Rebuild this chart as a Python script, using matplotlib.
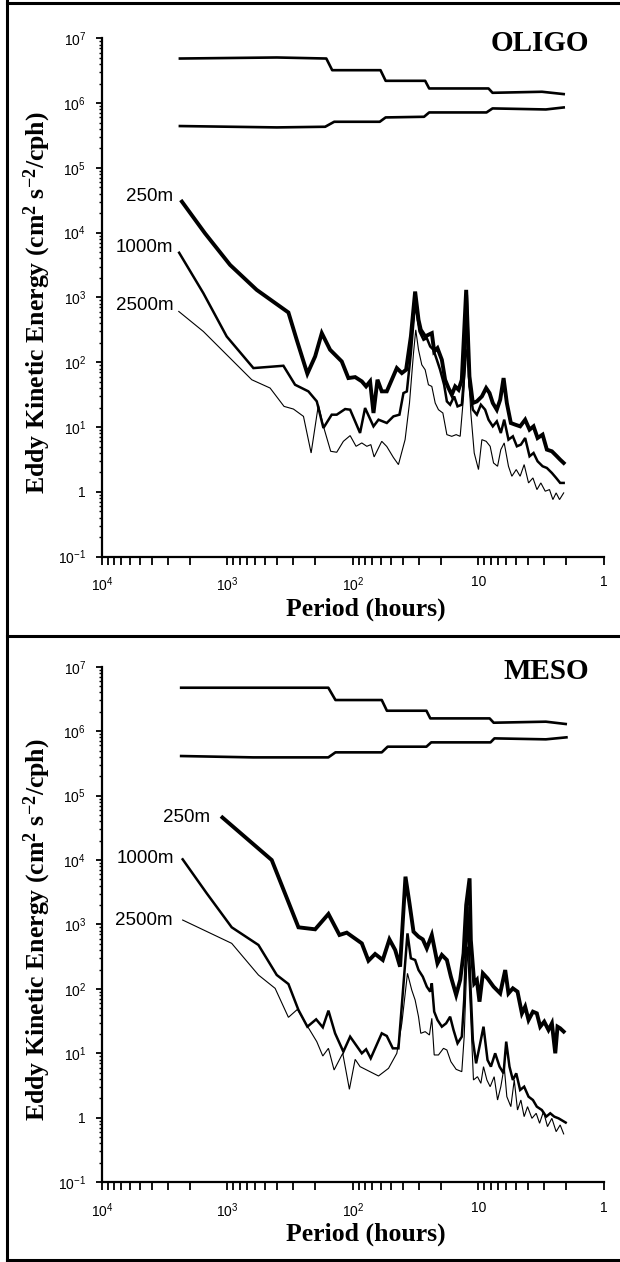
import numpy as np
import matplotlib.pyplot as plt
from matplotlib.lines import Line2D
from matplotlib.ticker import LogLocator, NullFormatter

plt.rcParams['font.family'] = 'Liberation Sans'
plt.rcParams['mathtext.default'] = 'regular'

# values, stored as log10(period in hours) / log10(EKE)
panel_names = ['OLIGO', 'MESO']
depth_labels = ['250m', '1000m', '2500m']

ytick_vals = [1e-1, 1, 1e1, 1e2, 1e3, 1e4, 1e5, 1e6, 1e7]
ytick_labels = [r'$10^{-1}$', '1', r'$10^{1}$', r'$10^{2}$', r'$10^{3}$',
                r'$10^{4}$', r'$10^{5}$', r'$10^{6}$', r'$10^{7}$']
xtick_vals = [1e4, 1e3, 1e2, 10, 1]
xtick_labels = [r'$10^{4}$', r'$10^{3}$', r'$10^{2}$', '10', '1']

# ---- OLIGO ----
oligo_hi_logp = [3.379, 2.606, 2.212, 2.165, 1.780, 1.739, 1.424, 1.392, 0.919, 0.887, 0.493, 0.320]
oligo_hi_loge = [6.687, 6.703, 6.687, 6.507, 6.507, 6.343, 6.343, 6.225, 6.225, 6.158, 6.174, 6.138]
oligo_lo_logp = [3.379, 2.606, 2.221, 2.149, 1.786, 1.739, 1.433, 1.392, 0.935, 0.887, 0.462, 0.320]
oligo_lo_loge = [5.645, 5.624, 5.634, 5.711, 5.711, 5.778, 5.788, 5.855, 5.855, 5.917, 5.901, 5.932]

oligo_250_logp = [3.363, 3.179, 2.979, 2.767, 2.514, 2.448, 2.363, 2.301, 2.248, 2.182,
                  2.089, 2.036, 1.982, 1.929, 1.895, 1.863, 1.836, 1.804, 1.770, 1.730,
                  1.650, 1.610, 1.576, 1.538, 1.504, 1.477, 1.459, 1.424, 1.398, 1.371,
                  1.352, 1.326, 1.291, 1.265, 1.238, 1.212, 1.185, 1.158, 1.132, 1.097,
                  1.071, 1.044, 1.012, 0.972, 0.938, 0.911, 0.885, 0.853, 0.826, 0.799,
                  0.773, 0.741, 0.706, 0.667, 0.627, 0.592, 0.560, 0.528, 0.488, 0.454,
                  0.414, 0.374, 0.348, 0.320]
oligo_250_loge = [4.479, 3.990, 3.502, 3.117, 2.768, 2.347, 1.823, 2.090, 2.449, 2.193,
                  2.013, 1.756, 1.771, 1.705, 1.628, 1.705, 1.217, 1.730, 1.551, 1.551,
                  1.910, 1.833, 1.884, 2.398, 3.091, 2.655, 2.501, 2.398, 2.424, 2.449,
                  2.167, 2.218, 2.038, 1.730, 1.602, 1.499, 1.627, 1.576, 1.730, 3.117,
                  1.781, 1.371, 1.396, 1.473, 1.602, 1.525, 1.371, 1.268, 1.422, 1.756,
                  1.371, 1.062, 1.037, 1.011, 1.114, 0.960, 1.011, 0.831, 0.883, 0.652,
                  0.626, 0.549, 0.497, 0.446]

oligo_1000_logp = [3.385, 3.192, 3.006, 2.793, 2.554, 2.461, 2.355, 2.288, 2.235, 2.169,
                   2.129, 2.062, 2.022, 1.943, 1.903, 1.836, 1.796, 1.730, 1.677, 1.629,
                   1.597, 1.570, 1.538, 1.504, 1.469, 1.437, 1.411, 1.384, 1.358, 1.331,
                   1.305, 1.273, 1.251, 1.225, 1.193, 1.166, 1.132, 1.105, 1.092, 1.071,
                   1.044, 1.012, 0.980, 0.946, 0.919, 0.885, 0.853, 0.821, 0.794, 0.760,
                   0.725, 0.693, 0.661, 0.627, 0.592, 0.560, 0.528, 0.488, 0.454, 0.414,
                   0.380, 0.348, 0.320]
oligo_1000_loge = [3.690, 3.066, 2.398, 1.910, 1.946, 1.653, 1.551, 1.397, 0.986, 1.191,
                   1.191, 1.278, 1.268, 0.909, 1.294, 1.011, 1.114, 1.063, 1.165, 1.191,
                   1.525, 1.550, 2.141, 2.937, 2.475, 2.346, 2.372, 2.244, 2.192, 2.038,
                   1.884, 1.653, 1.396, 1.345, 1.473, 1.319, 1.345, 1.987, 3.040, 1.627,
                   1.268, 1.191, 1.345, 1.268, 1.114, 1.011, 1.088, 0.908, 1.114, 0.806,
                   0.857, 0.703, 0.729, 0.831, 0.549, 0.600, 0.472, 0.395, 0.369, 0.292,
                   0.215, 0.138, 0.138]

oligo_2500_logp = [3.388, 3.192, 3.006, 2.806, 2.660, 2.549, 2.474, 2.394, 2.333, 2.275,
                   2.235, 2.177, 2.129, 2.076, 2.022, 1.975, 1.929, 1.889, 1.857, 1.831,
                   1.770, 1.730, 1.677, 1.637, 1.584, 1.549, 1.517, 1.499, 1.477, 1.451,
                   1.424, 1.398, 1.371, 1.344, 1.318, 1.283, 1.251, 1.212, 1.177, 1.145,
                   1.118, 1.097, 1.079, 1.060, 1.033, 0.999, 0.972, 0.938, 0.906, 0.879,
                   0.847, 0.821, 0.794, 0.760, 0.733, 0.698, 0.667, 0.635, 0.600, 0.565,
                   0.533, 0.502, 0.467, 0.433, 0.406, 0.380, 0.353, 0.320]
oligo_2500_loge = [2.784, 2.475, 2.116, 1.730, 1.602, 1.319, 1.278, 1.165, 0.600, 1.345,
                   1.011, 0.626, 0.611, 0.780, 0.868, 0.703, 0.755, 0.703, 0.729, 0.539,
                   0.780, 0.700, 0.530, 0.421, 0.806, 1.371, 2.141, 2.500, 2.192, 1.961,
                   1.884, 1.653, 1.627, 1.371, 1.268, 1.217, 0.883, 0.857, 0.883, 0.857,
                   1.473, 2.200, 1.884, 1.217, 0.600, 0.344, 0.806, 0.780, 0.703, 0.446,
                   0.395, 0.652, 0.755, 0.395, 0.241, 0.344, 0.241, 0.421, 0.138, 0.215,
                   0.035, 0.138, 0.010, 0.035, -0.119, -0.016, -0.119, -0.016]

# ---- MESO ----
meso_hi_logp = [3.369, 2.196, 2.139, 1.770, 1.729, 1.414, 1.383, 0.910, 0.878, 0.462, 0.304]
meso_hi_loge = [6.674, 6.674, 6.483, 6.483, 6.317, 6.317, 6.198, 6.198, 6.131, 6.147, 6.111]
meso_lo_logp = [3.369, 2.795, 2.196, 2.139, 1.770, 1.723, 1.414, 1.376, 0.903, 0.872, 0.462, 0.298]
meso_lo_loge = [5.614, 5.593, 5.593, 5.671, 5.671, 5.759, 5.759, 5.826, 5.826, 5.888, 5.873, 5.904]

meso_250_logp = [3.040, 2.647, 2.434, 2.301, 2.195, 2.107, 2.049, 1.929, 1.876, 1.823,
                 1.762, 1.709, 1.663, 1.624, 1.581, 1.549, 1.517, 1.477, 1.443, 1.411,
                 1.371, 1.326, 1.291, 1.251, 1.219, 1.177, 1.145, 1.118, 1.097, 1.070,
                 1.060, 1.033, 1.012, 0.991, 0.964, 0.927, 0.879, 0.826, 0.786, 0.760,
                 0.725, 0.688, 0.653, 0.627, 0.600, 0.565, 0.534, 0.507, 0.475, 0.441,
                 0.414, 0.387, 0.369, 0.348, 0.320]
meso_250_loge = [4.660, 4.000, 2.956, 2.925, 3.163, 2.837, 2.873, 2.707, 2.438, 2.542,
                 2.449, 2.769, 2.604, 2.345, 3.742, 3.328, 2.888, 2.811, 2.769, 2.630,
                 2.837, 2.397, 2.527, 2.449, 2.190, 1.906, 2.138, 2.552, 3.302, 3.716,
                 2.759, 2.087, 2.138, 1.802, 2.242, 2.164, 2.035, 1.931, 2.293, 1.931,
                 2.009, 1.957, 1.621, 1.725, 1.518, 1.647, 1.621, 1.414, 1.492, 1.363,
                 1.466, 1.001, 1.414, 1.389, 1.338]

meso_1000_logp = [3.357, 3.165, 2.966, 2.753, 2.607, 2.514, 2.434, 2.363, 2.293, 2.240,
                  2.195, 2.142, 2.076, 2.022, 1.929, 1.895, 1.858, 1.770, 1.730, 1.682,
                  1.637, 1.565, 1.538, 1.504, 1.477, 1.443, 1.411, 1.384, 1.371, 1.352,
                  1.326, 1.291, 1.257, 1.225, 1.198, 1.166, 1.132, 1.113, 1.087, 1.065,
                  1.044, 1.018, 0.991, 0.959, 0.927, 0.900, 0.866, 0.831, 0.799, 0.778,
                  0.752, 0.725, 0.698, 0.667, 0.635, 0.600, 0.565, 0.534, 0.494, 0.459,
                  0.427, 0.395, 0.361, 0.304]
meso_1000_loge = [4.011, 3.483, 2.956, 2.682, 2.216, 2.076, 1.673, 1.414, 1.528, 1.404,
                  1.663, 1.311, 1.026, 1.259, 1.001, 1.063, 0.923, 1.311, 1.270, 1.078,
                  1.078, 2.862, 2.475, 2.449, 2.294, 2.190, 2.035, 1.957, 2.087, 1.647,
                  1.518, 1.414, 1.466, 1.569, 1.363, 1.156, 1.259, 1.828, 3.276, 2.138,
                  1.208, 0.845, 1.104, 1.414, 0.897, 0.794, 1.001, 0.794, 0.690, 1.182,
                  0.794, 0.587, 0.690, 0.432, 0.483, 0.328, 0.276, 0.173, 0.121, 0.018,
                  0.070, 0.018, -0.008, -0.074]

meso_2500_logp = [3.357, 2.966, 2.753, 2.620, 2.514, 2.442, 2.368, 2.288, 2.240, 2.195,
                  2.150, 2.081, 2.028, 1.982, 1.943, 1.796, 1.716, 1.650, 1.610, 1.565,
                  1.531, 1.504, 1.477, 1.459, 1.424, 1.390, 1.371, 1.352, 1.318, 1.278,
                  1.251, 1.219, 1.177, 1.132, 1.113, 1.087, 1.060, 1.039, 1.007, 0.980,
                  0.959, 0.932, 0.906, 0.874, 0.847, 0.821, 0.794, 0.773, 0.741, 0.714,
                  0.688, 0.661, 0.635, 0.608, 0.573, 0.539, 0.512, 0.481, 0.449, 0.414,
                  0.380, 0.348, 0.320]
meso_2500_loge = [3.069, 2.707, 2.216, 2.009, 1.559, 1.683, 1.440, 1.182, 0.959, 1.078,
                  0.742, 1.001, 0.442, 0.907, 0.794, 0.649, 0.768, 1.001, 1.466, 2.242,
                  1.983, 1.828, 1.569, 1.311, 1.337, 1.285, 1.544, 0.975, 0.975, 1.078,
                  1.052, 0.871, 0.752, 0.716, 1.259, 2.656, 1.518, 0.587, 0.638, 0.535,
                  0.794, 0.587, 0.483, 0.638, 0.276, 0.483, 0.794, 0.328, 0.173, 0.587,
                  0.121, 0.276, 0.018, 0.173, -0.008, 0.070, -0.085, 0.096, -0.137, -0.008,
                  -0.215, -0.111, -0.250]

panels = [
    dict(name='OLIGO',
         env=[(oligo_hi_logp, oligo_hi_loge), (oligo_lo_logp, oligo_lo_loge)],
         spec=[(oligo_250_logp, oligo_250_loge), (oligo_1000_logp, oligo_1000_loge),
               (oligo_2500_logp, oligo_2500_loge)],
         offs=[(-6, 3.5), (-4, 3.5), (-4, 4.5)]),
    dict(name='MESO',
         env=[(meso_hi_logp, meso_hi_loge), (meso_lo_logp, meso_lo_loge)],
         spec=[(meso_250_logp, meso_250_loge), (meso_1000_logp, meso_1000_loge),
               (meso_2500_logp, meso_2500_loge)],
         offs=[(-9, 0), (-6, 0.5), (-7.5, 0)]),
]

line_widths = [2.8, 1.8, 0.8]
rects = [[0.1645, 0.5589, 0.8094, 0.4108], [0.1645, 0.0632, 0.8094, 0.4085]]

fig = plt.figure(figsize=(6.2, 12.62), dpi=100)

for p, rect in zip(panels, rects):
    ax = fig.add_axes(rect)
    for lp, le in p['env']:
        ax.plot(10 ** np.array(lp), 10 ** np.array(le), color='black', lw=1.9,
                solid_joinstyle='round')
    for (lp, le), lw, lab, off in zip(p['spec'], line_widths, depth_labels, p['offs']):
        x = 10 ** np.array(lp)
        y = 10 ** np.array(le)
        ax.plot(x, y, color='black', lw=lw, solid_joinstyle='miter')
        ax.annotate(lab, (x[0], y[0]), xytext=off, textcoords='offset points',
                    ha='right', va='center', fontsize=13.5)

    ax.set_xscale('log')
    ax.set_yscale('log')
    ax.set_xlim(1e4, 1)
    ax.set_ylim(1e-1, 1e7)
    ax.spines['top'].set_visible(False)
    ax.spines['right'].set_visible(False)
    for s in ['left', 'bottom']:
        ax.spines[s].set_linewidth(1.6)

    ax.set_xticks(xtick_vals, xtick_labels)
    ax.set_yticks(ytick_vals, ytick_labels)
    ax.xaxis.set_minor_locator(LogLocator(base=10, subs=np.arange(2, 10), numticks=20))
    ax.yaxis.set_minor_locator(LogLocator(base=10, subs=np.arange(2, 10), numticks=20))
    ax.xaxis.set_minor_formatter(NullFormatter())
    ax.yaxis.set_minor_formatter(NullFormatter())
    ax.tick_params(axis='x', which='both', direction='out', length=5.5, width=1.3,
                   labelsize=10, pad=8)
    ax.tick_params(axis='y', which='major', direction='out', length=4.5, width=1.3,
                   labelsize=10, pad=7)
    ax.tick_params(axis='y', which='minor', direction='out', length=2.5, width=1.0)

    ax.set_xlabel('Period (hours)', fontfamily='Liberation Serif', fontweight='bold',
                  fontsize=18.5)
    ax.xaxis.set_label_coords(0.526, -0.079)
    ax.set_ylabel(r'Eddy Kinetic Energy (cm$^{2}$ s$^{-2}$/cph)',
                  fontfamily='Liberation Serif', fontweight='bold', fontsize=18.5)
    ax.yaxis.set_label_coords(-0.098, 0.49)

    ax.text(0.97, 0.99, p['name'], transform=ax.transAxes, ha='right', va='center',
            fontfamily='Liberation Serif', fontweight='bold', fontsize=21)

# frame lines of the scanned figure
frame = [((7 / 620, 7 / 620), (0, 1)),
         ((7 / 620, 1), (1 - 3 / 1262, 1 - 3 / 1262)),
         ((7 / 620, 1), (1 - 636 / 1262, 1 - 636 / 1262)),
         ((7 / 620, 1), (1 - 1260 / 1262, 1 - 1260 / 1262))]
for xs, ys in frame:
    fig.add_artist(Line2D(xs, ys, transform=fig.transFigure, color='black', lw=2.2))

fig.savefig('out.png', dpi=100)
